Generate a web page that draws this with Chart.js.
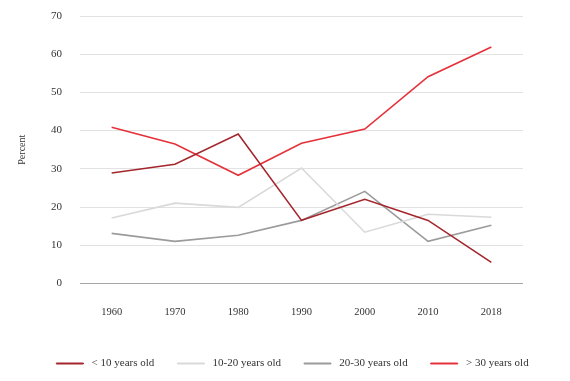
<!DOCTYPE html>
<html>
<head>
<meta charset="utf-8">
<script src="https://cdn.jsdelivr.net/npm/chart.js@4/dist/chart.umd.min.js"></script>
<style>
html,body{margin:0;padding:0;background:#fff;}
#wrap{width:570px;height:381px;}
</style>
</head>
<body>
<div id="wrap"><canvas id="c" width="570" height="381"></canvas></div>
<script>
const categories = ["1960","1970","1980","1990","2000","2010","2018"];
const under10 = [28.9, 31.2, 39.1, 16.5, 22.0, 16.5, 5.5];
const age10to20 = [17.1, 21.0, 19.9, 30.2, 13.4, 18.1, 17.3];
const age20to30 = [13.1, 11.0, 12.6, 16.5, 24.1, 11.0, 15.2];
const over30 = [40.9, 36.5, 28.3, 36.7, 40.4, 54.1, 61.9];
const seriesNames = ["< 10 years old", "10-20 years old", "20-30 years old", "> 30 years old"];
const yTicks = [0, 10, 20, 30, 40, 50, 60, 70];

const colors = ["#a3272d", "#d9d9d9", "#9b9b9b", "#e5323a"];
const FONT = "'Liberation Serif', 'DejaVu Serif', serif";

const ds = (label, data, color) => ({
  label, data, borderColor: color, backgroundColor: color,
  borderWidth: 1.6, pointRadius: 0, tension: 0, fill: false, yAxisID: 'y'
});

new Chart(document.getElementById('c'), {
  type: 'line',
  data: {
    labels: categories,
    datasets: [
      ds(seriesNames[0], under10, colors[0]),
      ds(seriesNames[1], age10to20, colors[1]),
      ds(seriesNames[2], age20to30, colors[2]),
      ds(seriesNames[3], over30, colors[3])
    ]
  },
  options: {
    responsive: false,
    animation: false,
    layout: { padding: { top: 0, right: 0, left: 15, bottom: 2 } },
    plugins: {
      legend: {
        position: 'bottom',
        labels: {
          font: { family: FONT, size: 11 },
          color: '#333',
          boxWidth: 27,
          boxHeight: 1,
          padding: 23,
          generateLabels(chart) {
            return chart.data.datasets.map((d, i) => ({
              text: ' ' + d.label, fillStyle: d.borderColor, strokeStyle: d.borderColor,
              lineWidth: 1, datasetIndex: i, fontColor: '#333'
            }));
          }
        }
      },
      tooltip: { enabled: false }
    },
    scales: {
      x: {
        offset: true,
        grid: { display: false },
        border: { display: false },
        ticks: { font: { family: FONT, size: 10.5 }, color: '#333', padding: 15 },
        afterFit(scale) { scale.height += 1; }
      },
      y: {
        position: 'left',
        min: 0, max: 70,
        afterBuildTicks(scale) { scale.ticks = yTicks.map(v => ({ value: v })); },
        afterFit(scale) { scale.paddingTop = 16; scale.paddingBottom = 6; },
        grid: {
          color: ctx => ctx.tick && ctx.tick.value === 0 ? '#a6a6a6' : '#e2e2e2',
          lineWidth: 1,
          drawTicks: false
        },
        border: { display: false },
        ticks: { font: { family: FONT, size: 11 }, color: '#333', padding: 18 },
        title: { display: true, text: 'Percent', font: { family: FONT, size: 10 }, color: '#333', padding: { top: 1, bottom: 5 } }
      },
      yRight: {
        position: 'right',
        display: true,
        min: 0, max: 70,
        grid: { display: false, drawTicks: false },
        border: { display: false },
        ticks: { display: false },
        afterFit(scale) { scale.width = 47; }
      }
    }
  }
});
</script>
</body>
</html>
